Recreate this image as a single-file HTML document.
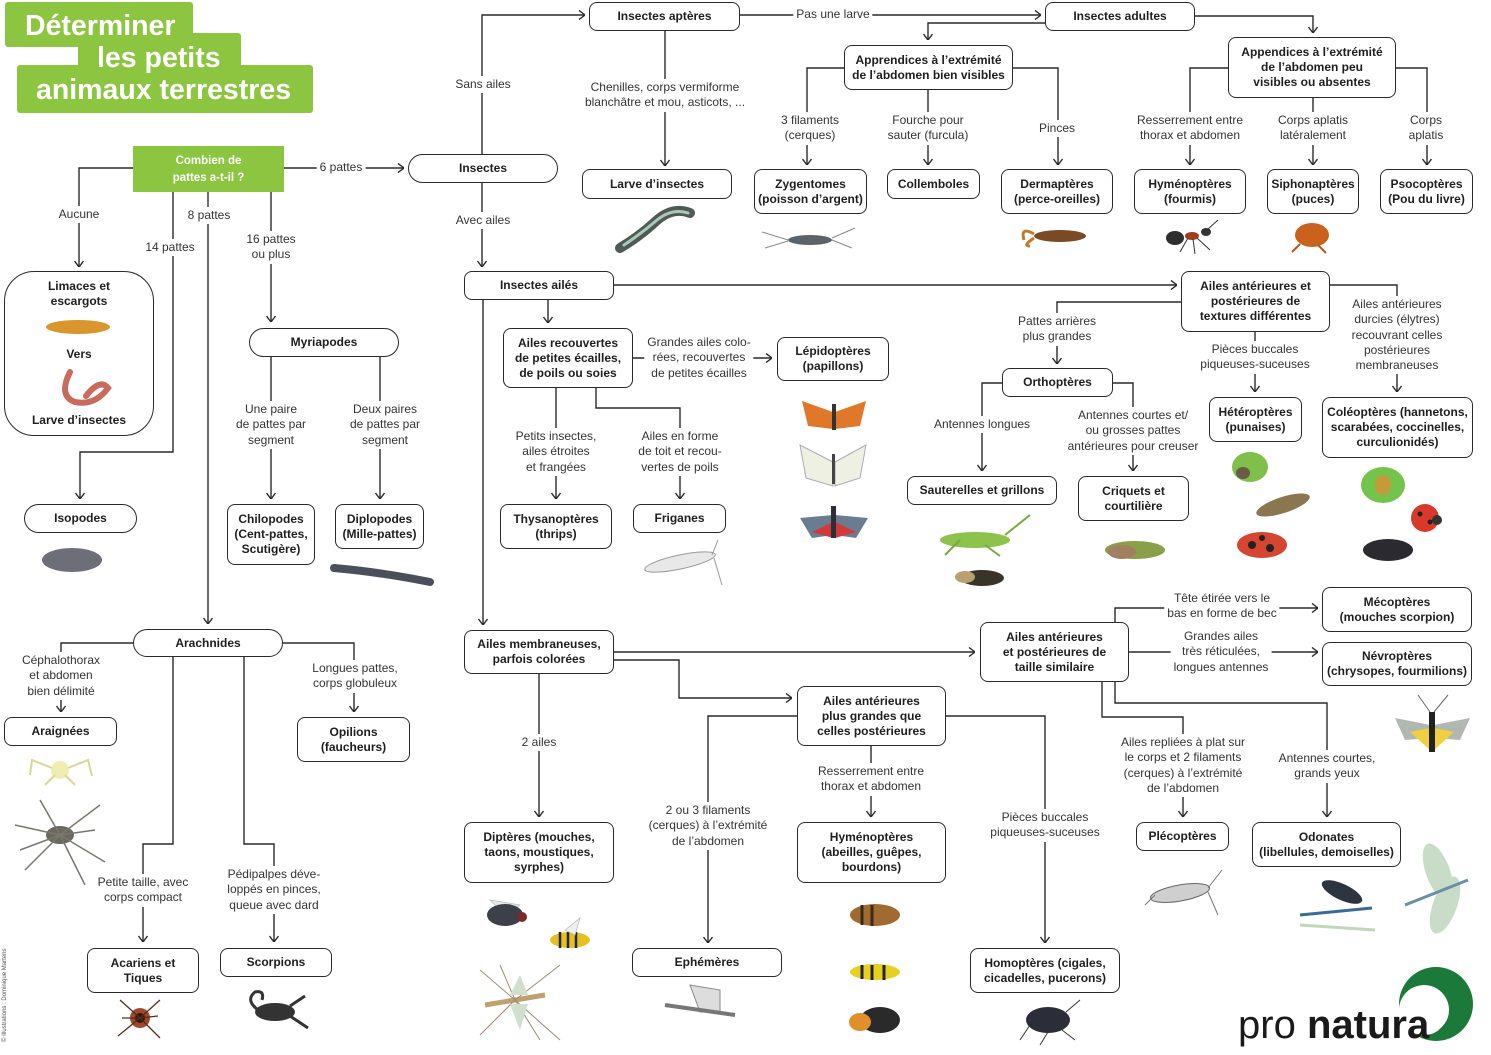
<!DOCTYPE html>
<html lang="fr"><head><meta charset="utf-8"><title>Déterminer les petits animaux terrestres</title>
<style>
body{margin:0;background:#fff}
#c{position:relative;width:1491px;height:1055px;overflow:hidden;font-family:"Liberation Sans",sans-serif;color:#222;background:#fff}
svg{position:absolute;left:0;top:0}
.b{position:absolute;box-sizing:border-box;border:1.6px solid #2a2a2a;border-radius:8px;background:#fff;display:flex;align-items:center;justify-content:center;text-align:center;font-weight:bold;font-size:12px;line-height:15px;white-space:nowrap;color:#1e1e1e}
.p{border-radius:15px}
.l{position:absolute;transform:translateX(-50%);background:#fff;text-align:center;white-space:nowrap;font-size:12px;line-height:15.3px;padding:1px 3px;color:#333}
.t{position:absolute;transform:translateX(-50%);text-align:center;white-space:nowrap;font-weight:bold;font-size:12px;line-height:15px;color:#1e1e1e}
</style></head><body><div id="c">
<svg width="1491" height="1055" viewBox="0 0 1491 1055">
<defs>
<marker id="ar" viewBox="0 0 10 10" refX="10" refY="5" markerWidth="10" markerHeight="10" markerUnits="userSpaceOnUse" orient="auto"><path d="M4,0.5 L10,5 L4,9.5" fill="none" stroke="#2a2a2a" stroke-width="1.4"/></marker>
</defs>
<!-- title -->
<rect x="5" y="2" width="188" height="45" rx="3" fill="#8cc540"/>
<rect x="78" y="33" width="163" height="37" rx="3" fill="#8cc540"/>
<rect x="17" y="65" width="296" height="48" rx="3" fill="#8cc540"/>
<g fill="#fff" font-family="Liberation Sans, sans-serif" font-weight="bold" font-size="28.5">
<text x="25" y="35">Déterminer</text>
<text x="97" y="67">les petits</text>
<text x="36" y="99">animaux terrestres</text>
</g>
<rect x="133" y="146" width="151" height="46" fill="#8cc540"/>
<g fill="#fff" font-family="Liberation Sans, sans-serif" font-weight="bold" font-size="11.5" text-anchor="middle">
<text x="208.5" y="164">Combien de</text>
<text x="208.5" y="181">pattes a-t-il ?</text>
</g>

<!-- illustrations -->
<g>
<path d="M620,248 Q640,236 655,222 Q672,206 690,213" fill="none" stroke="#4f5a56" stroke-width="10" stroke-linecap="round"/>
<path d="M624,245 Q642,233 657,220 Q672,208 688,213" fill="none" stroke="#a9c9b9" stroke-width="3" stroke-linecap="round"/>
<ellipse cx="810" cy="240" rx="22" ry="5" fill="#5a636b"/>
<path d="M788,240 L762,232 M788,241 L765,248 M832,238 L855,228 M832,240 L852,248" stroke="#888" stroke-width="1"/>
<ellipse cx="1060" cy="236" rx="26" ry="6" fill="#7a4a25"/>
<path d="M1034,234 Q1020,226 1024,240 M1034,238 Q1022,246 1030,246" stroke="#c07a2a" stroke-width="3" fill="none"/>
<ellipse cx="1175" cy="238" rx="9" ry="7" fill="#2e2e2e"/><ellipse cx="1192" cy="236" rx="7" ry="4" fill="#a03c1a"/><ellipse cx="1206" cy="232" rx="5" ry="4" fill="#333"/>
<path d="M1188,238 L1180,252 M1193,239 L1195,254 M1197,238 L1210,250 M1208,229 L1218,220" stroke="#333" stroke-width="1"/>
<ellipse cx="1312" cy="235" rx="17" ry="12" fill="#c8621d"/>
<path d="M1300,244 L1292,252 M1318,245 L1326,253" stroke="#b5581a" stroke-width="2"/>
<ellipse cx="78" cy="327" rx="32" ry="7" fill="#d9962c"/>
<path d="M70,372 Q58,396 75,402 Q95,406 108,388 Q100,378 86,396" fill="none" stroke="#c86a5c" stroke-width="6" stroke-linecap="round"/>
<ellipse cx="72" cy="560" rx="30" ry="12" fill="#6e6e78"/>
<path d="M334,568 Q380,572 430,582" fill="none" stroke="#4a4f5a" stroke-width="8" stroke-linecap="round"/>
<!-- butterflies -->
<path d="M833,412 L802,401 L808,426 L833,429 Z M835,412 L866,401 L860,426 L835,429 Z" fill="#e0782a"/>
<rect x="832" y="404" width="4" height="26" fill="#333"/>
<path d="M833,462 L800,445 L806,478 L833,486 Z M835,462 L866,445 L860,478 L835,486 Z" fill="#eef0e2" stroke="#aab" stroke-width="1"/>
<rect x="832" y="454" width="3" height="30" fill="#444"/>
<path d="M833,515 L800,518 L812,538 L833,535 Z M835,515 L868,518 L856,538 L835,535 Z" fill="#6a7c90"/>
<path d="M833,522 L812,532 L833,538 Z M835,522 L856,532 L835,538 Z" fill="#d23a3a"/>
<rect x="831" y="506" width="5" height="32" fill="#2b3038"/>
<ellipse cx="680" cy="562" rx="36" ry="7" transform="rotate(-12 680 562)" fill="#e8e8e8" stroke="#999" stroke-width="1"/>
<path d="M712,555 L718,540 M714,558 L722,585" stroke="#999" stroke-width="1"/>
<!-- orthoptera -->
<ellipse cx="975" cy="540" rx="35" ry="8" fill="#8cc34a"/>
<path d="M960,540 L945,555 M985,545 L1000,556 M1005,535 L1030,515" stroke="#7aa840" stroke-width="2" fill="none"/>
<ellipse cx="982" cy="578" rx="22" ry="8" fill="#3a3328"/><ellipse cx="965" cy="577" rx="10" ry="6" fill="#b8a070"/>
<ellipse cx="1135" cy="550" rx="30" ry="9" fill="#8aa048"/><ellipse cx="1122" cy="552" rx="14" ry="7" fill="#a08060"/>
<!-- heteroptera -->
<ellipse cx="1250" cy="467" rx="18" ry="15" fill="#7fbf4a"/><ellipse cx="1243" cy="473" rx="7" ry="6" fill="#6a5a48"/>
<ellipse cx="1283" cy="505" rx="28" ry="8" transform="rotate(-18 1283 505)" fill="#8a7650"/>
<ellipse cx="1262" cy="545" rx="25" ry="13" fill="#d64530"/>
<circle cx="1252" cy="545" r="4" fill="#222"/><circle cx="1270" cy="548" r="4" fill="#222"/><circle cx="1262" cy="538" r="3" fill="#222"/>
<!-- coleoptera -->
<ellipse cx="1383" cy="485" rx="22" ry="18" fill="#74c44c"/><ellipse cx="1383" cy="485" rx="8" ry="10" fill="#c49a3a"/>
<circle cx="1425" cy="518" r="14" fill="#d8392b"/><circle cx="1420" cy="514" r="2.5" fill="#222"/><circle cx="1430" cy="522" r="2.5" fill="#222"/><circle cx="1437" cy="520" r="5" fill="#333"/>
<ellipse cx="1388" cy="550" rx="25" ry="11" fill="#2a2a30"/>
<!-- spiders -->
<circle cx="60" cy="770" r="9" fill="#efeeb0"/><path d="M52,768 L32,760 L30,775 M68,768 L88,760 L92,776 M55,775 L45,785 M65,775 L75,785" stroke="#d8d890" stroke-width="2" fill="none"/>
<ellipse cx="60" cy="835" rx="14" ry="9" fill="#6b6860"/>
<path d="M60,835 L15,825 M60,835 L25,870 M60,835 L100,805 M60,835 L105,862 M60,835 L40,800 M60,835 L85,885 M60,835 L20,850 M60,835 L95,830" stroke="#7a776e" stroke-width="1.5"/>
<!-- mite, scorpion -->
<circle cx="140" cy="1018" r="10" fill="#a0482a"/><circle cx="140" cy="1018" r="5" fill="#2a1a12"/>
<path d="M140,1018 L120,1000 M140,1018 L160,1000 M140,1018 L118,1036 M140,1018 L160,1038 M140,1018 L122,1018 M140,1018 L158,1016" stroke="#5a2a1a" stroke-width="1.3"/>
<ellipse cx="275" cy="1012" rx="20" ry="9" fill="#333"/>
<path d="M258,1010 Q245,1000 255,992 Q265,990 262,1000 M290,1006 L305,996 M290,1016 L308,1028" stroke="#333" stroke-width="3" fill="none"/>
<!-- diptera -->
<path d="M490,900 L520,905 L505,915 Z" fill="#e8eae8" stroke="#bbb" stroke-width="0.8"/>
<ellipse cx="505" cy="915" rx="18" ry="11" fill="#3c4048"/><circle cx="522" cy="917" r="5" fill="#7a2a2a"/>
<ellipse cx="570" cy="940" rx="20" ry="8" fill="#e5c020"/>
<path d="M560,932 L560,948 M568,932 L568,948 M576,932 L576,948" stroke="#222" stroke-width="2.5"/>
<path d="M565,930 L580,918 L575,935 Z" fill="#eee" stroke="#bbb" stroke-width="0.8"/>
<path d="M485,1005 L545,995" stroke="#c0a070" stroke-width="5"/>
<path d="M515,1000 L480,970 M515,1000 L560,965 M515,1000 L480,1035 M515,1000 L560,1040 M515,1000 L540,1040 M515,1000 L500,965" stroke="#a08a70" stroke-width="1"/>
<path d="M510,995 L520,975 L528,995 Z M510,1004 L520,1030 L528,1004 Z" fill="#cfe0cc"/>
<!-- mayfly -->
<path d="M700,1012 L690,985 L720,990 L720,1012 Z" fill="#ddd" stroke="#888" stroke-width="1"/>
<path d="M665,1005 L735,1015" stroke="#777" stroke-width="4"/>
<!-- hymenoptera -->
<ellipse cx="875" cy="915" rx="25" ry="11" fill="#a06a30"/><path d="M862,905 L862,925 M872,905 L872,926" stroke="#3a2a1a" stroke-width="3"/>
<ellipse cx="875" cy="972" rx="25" ry="8" fill="#e8d020"/><path d="M862,965 L862,979 M872,965 L872,980 M884,965 L884,980" stroke="#222" stroke-width="3"/>
<ellipse cx="880" cy="1020" rx="20" ry="13" fill="#2a2a2a"/><ellipse cx="860" cy="1022" rx="11" ry="9" fill="#e0902a"/>
<!-- aphid -->
<ellipse cx="1048" cy="1020" rx="22" ry="13" fill="#2b2e38"/>
<path d="M1030,1025 L1020,1040 M1048,1032 L1040,1045 M1062,1030 L1075,1040 M1066,1012 L1080,1000" stroke="#333" stroke-width="1"/>
<!-- neuroptera -->
<path d="M1430,725 L1395,718 L1405,740 L1430,738 Z M1434,725 L1470,718 L1460,740 L1434,738 Z" fill="#b0b8b0"/>
<path d="M1430,728 L1410,732 L1430,750 Z M1434,728 L1454,732 L1434,750 Z" fill="#f0d040"/>
<rect x="1429" y="712" width="6" height="40" fill="#222"/>
<path d="M1430,712 L1418,695 M1434,712 L1448,695" stroke="#666" stroke-width="1"/>
<!-- plecoptera -->
<ellipse cx="1180" cy="893" rx="30" ry="8" transform="rotate(-10 1180 893)" fill="#cfcfcf" stroke="#666" stroke-width="1"/>
<path d="M1208,888 L1222,870 M1208,892 L1218,915 M1155,895 L1145,905" stroke="#777" stroke-width="1"/>
<!-- odonata -->
<path d="M1300,915 L1372,908" stroke="#3a6a9a" stroke-width="3"/>
<ellipse cx="1342" cy="892" rx="22" ry="8" transform="rotate(25 1342 892)" fill="#2e3440"/>
<path d="M1300,925 L1375,930" stroke="#c0d8b8" stroke-width="3"/>
<ellipse cx="1438" cy="872" rx="12" ry="30" transform="rotate(-20 1438 872)" fill="#c8dcc8"/>
<ellipse cx="1445" cy="905" rx="12" ry="30" transform="rotate(20 1445 905)" fill="#c8dcc8"/>
<path d="M1405,905 L1468,880" stroke="#6a90a8" stroke-width="3"/>
</g>

<!-- connectors -->
<g fill="none" stroke="#2a2a2a" stroke-width="1.4" marker-end="url(#ar)">
<path d="M284,168 H404"/>
<path d="M133,168 H79 V267"/>
<path d="M173,192 V452 H80 V499"/>
<path d="M208,192 V624"/>
<path d="M271,192 V322"/>
<path d="M482,154 V15 H585"/>
<path d="M482,183 V267"/>
<path d="M665,31 V166"/>
<path d="M740,15 H1041"/>
<path d="M1045,23 H928 V40"/>
<path d="M1195,16 H1313 V33"/>
<path d="M844,68 H807 V165"/>
<path d="M928,90 V165"/>
<path d="M1013,68 H1058 V165"/>
<path d="M1228,68 H1190 V165"/>
<path d="M1313,98 V165"/>
<path d="M1396,68 H1427 V165"/>
<path d="M483,300 V625"/>
<path d="M614,285 H1177"/>
<path d="M548,300 V323"/>
<path d="M633,358 H772"/>
<path d="M556,388 V499"/>
<path d="M596,388 V408 H680 V499"/>
<path d="M1181,302 H1057 V364"/>
<path d="M1255,332 V392"/>
<path d="M1330,285 H1397 V392"/>
<path d="M1002,383 H982 V471"/>
<path d="M1113,383 H1133 V471"/>
<path d="M614,652 H975"/>
<path d="M614,660 H679 V698 H792"/>
<path d="M539,674 V817"/>
<path d="M797,716 H708 V943"/>
<path d="M871,746 V817"/>
<path d="M946,716 H1045 V943"/>
<path d="M1115,622 V608 H1318"/>
<path d="M1129,652 H1318"/>
<path d="M1102,682 V717 H1183 V817"/>
<path d="M1115,682 V703 H1327 V817"/>
<path d="M133,643 H61 V712"/>
<path d="M283,643 H354 V712"/>
<path d="M173,657 V844 H143 V942"/>
<path d="M244,657 V844 H274 V942"/>
<path d="M271,357 V499"/>
<path d="M380,357 V499"/>
</g>

<!-- logo -->
<circle cx="1436" cy="1004" r="37" fill="#1b7a3a"/>
<circle cx="1424" cy="1010" r="25" fill="#fff"/>
<path d="M1412,985 Q1440,975 1452,1000 Q1455,1020 1440,1032" fill="none" stroke="#1b7a3a" stroke-width="5"/>
<text x="1238" y="1038" font-family="Liberation Sans, sans-serif" font-size="40" fill="#1a1a1a"><tspan>pro </tspan><tspan font-weight="bold">natura</tspan></text>
<text transform="translate(6,1042) rotate(-90)" font-family="Liberation Sans, sans-serif" font-size="6" fill="#555">© Illustrations : Dominique Martens</text>
</svg>

<!-- boxes -->
<div class="b" style="left:589px;top:2px;width:151px;height:29px">Insectes aptères</div>
<div class="b" style="left:1045px;top:2px;width:150px;height:29px">Insectes adultes</div>
<div class="b" style="left:844px;top:45px;width:169px;height:45px">Apprendices à l’extrémité<br>de l’abdomen bien visibles</div>
<div class="b" style="left:1228px;top:37px;width:168px;height:61px">Appendices à l’extrémité<br>de l’abdomen peu<br>visibles ou absentes</div>
<div class="b" style="left:582px;top:169px;width:150px;height:30px">Larve d’insectes</div>
<div class="b" style="left:754px;top:169px;width:113px;height:45px">Zygentomes<br>(poisson d’argent)</div>
<div class="b" style="left:887px;top:169px;width:93px;height:30px">Collemboles</div>
<div class="b" style="left:1001px;top:169px;width:112px;height:45px">Dermaptères<br>(perce-oreilles)</div>
<div class="b" style="left:1134px;top:169px;width:112px;height:45px">Hyménoptères<br>(fourmis)</div>
<div class="b" style="left:1267px;top:169px;width:92px;height:45px">Siphonaptères<br>(puces)</div>
<div class="b" style="left:1380px;top:169px;width:93px;height:45px">Psocoptères<br>(Pou du livre)</div>
<div class="b p" style="left:408px;top:154px;width:150px;height:29px">Insectes</div>
<div class="b" style="left:464px;top:271px;width:150px;height:29px">Insectes ailés</div>
<div class="b" style="left:503px;top:328px;width:130px;height:60px">Ailes recouvertes<br>de petites écailles,<br>de poils ou soies</div>
<div class="b" style="left:777px;top:337px;width:112px;height:44px">Lépidoptères<br>(papillons)</div>
<div class="b" style="left:500px;top:504px;width:112px;height:45px">Thysanoptères<br>(thrips)</div>
<div class="b" style="left:633px;top:504px;width:93px;height:29px">Friganes</div>
<div class="b" style="left:1181px;top:271px;width:149px;height:61px">Ailes antérieures et<br>postérieures de<br>textures différentes</div>
<div class="b" style="left:1002px;top:368px;width:111px;height:29px">Orthoptères</div>
<div class="b" style="left:907px;top:476px;width:150px;height:29px">Sauterelles et grillons</div>
<div class="b" style="left:1078px;top:476px;width:111px;height:45px">Criquets et<br>courtilière</div>
<div class="b" style="left:1209px;top:397px;width:93px;height:45px">Hétéroptères<br>(punaises)</div>
<div class="b" style="left:1322px;top:397px;width:151px;height:61px">Coléoptères (hannetons,<br>scarabées, coccinelles,<br>curculionidés)</div>
<div class="b" style="left:4px;top:271px;width:150px;height:165px;border-radius:30px;background:transparent"></div>
<div class="t" style="left:79px;top:279px">Limaces et<br>escargots</div>
<div class="t" style="left:79px;top:347px">Vers</div>
<div class="t" style="left:79px;top:413px">Larve d’insectes</div>
<div class="b p" style="left:24px;top:504px;width:113px;height:29px">Isopodes</div>
<div class="b p" style="left:249px;top:328px;width:150px;height:29px">Myriapodes</div>
<div class="b" style="left:227px;top:504px;width:88px;height:61px">Chilopodes<br>(Cent-pattes,<br>Scutigère)</div>
<div class="b" style="left:335px;top:504px;width:89px;height:45px">Diplopodes<br>(Mille-pattes)</div>
<div class="b p" style="left:133px;top:629px;width:150px;height:28px">Arachnides</div>
<div class="b" style="left:4px;top:717px;width:113px;height:29px">Araignées</div>
<div class="b" style="left:297px;top:717px;width:113px;height:45px">Opilions<br>(faucheurs)</div>
<div class="b" style="left:87px;top:948px;width:112px;height:45px">Acariens et<br>Tiques</div>
<div class="b" style="left:220px;top:948px;width:112px;height:29px">Scorpions</div>
<div class="b" style="left:464px;top:630px;width:150px;height:44px">Ailes membraneuses,<br>parfois colorées</div>
<div class="b" style="left:797px;top:686px;width:149px;height:60px">Ailes antérieures<br>plus grandes que<br>celles postérieures</div>
<div class="b" style="left:464px;top:822px;width:150px;height:61px">Diptères (mouches,<br>taons, moustiques,<br>syrphes)</div>
<div class="b" style="left:797px;top:822px;width:149px;height:61px">Hyménoptères<br>(abeilles, guêpes,<br>bourdons)</div>
<div class="b" style="left:632px;top:948px;width:150px;height:29px">Ephémères</div>
<div class="b" style="left:970px;top:948px;width:150px;height:45px">Homoptères (cigales,<br>cicadelles, pucerons)</div>
<div class="b" style="left:980px;top:622px;width:149px;height:60px">Ailes antérieures<br>et postérieures de<br>taille similaire</div>
<div class="b" style="left:1322px;top:587px;width:150px;height:45px">Mécoptères<br>(mouches scorpion)</div>
<div class="b" style="left:1322px;top:642px;width:150px;height:44px">Névroptères<br>(chrysopes, fourmilions)</div>
<div class="b" style="left:1136px;top:822px;width:93px;height:29px">Plécoptères</div>
<div class="b" style="left:1252px;top:822px;width:149px;height:45px">Odonates<br>(libellules, demoiselles)</div>

<!-- labels -->
<div class="l" style="left:341px;top:159px">6 pattes</div>
<div class="l" style="left:79px;top:206px">Aucune</div>
<div class="l" style="left:209px;top:207px">8 pattes</div>
<div class="l" style="left:170px;top:239px">14 pattes</div>
<div class="l" style="left:271px;top:231px">16 pattes<br>ou plus</div>
<div class="l" style="left:483px;top:76px">Sans ailes</div>
<div class="l" style="left:483px;top:212px">Avec ailes</div>
<div class="l" style="left:665px;top:79px">Chenilles, corps vermiforme<br>blanchâtre et mou, asticots, ...</div>
<div class="l" style="left:833px;top:6px">Pas une larve</div>
<div class="l" style="left:810px;top:112px">3 filaments<br>(cerques)</div>
<div class="l" style="left:928px;top:112px">Fourche pour<br>sauter (furcula)</div>
<div class="l" style="left:1057px;top:120px">Pinces</div>
<div class="l" style="left:1190px;top:112px">Resserrement entre<br>thorax et abdomen</div>
<div class="l" style="left:1313px;top:112px">Corps aplatis<br>latéralement</div>
<div class="l" style="left:1426px;top:112px">Corps<br>aplatis</div>
<div class="l" style="left:699px;top:334px">Grandes ailes colo-<br>rées, recouvertes<br>de petites écailles</div>
<div class="l" style="left:556px;top:428px">Petits insectes,<br>ailes étroites<br>et frangées</div>
<div class="l" style="left:680px;top:428px">Ailes en forme<br>de toit et recou-<br>vertes de poils</div>
<div class="l" style="left:1057px;top:313px">Pattes arrières<br>plus grandes</div>
<div class="l" style="left:1255px;top:341px">Pièces buccales<br>piqueuses-suceuses</div>
<div class="l" style="left:1397px;top:296px">Ailes antérieures<br>durcies (élytres)<br>recouvrant celles<br>postérieures<br>membraneuses</div>
<div class="l" style="left:982px;top:416px">Antennes longues</div>
<div class="l" style="left:1133px;top:407px">Antennes courtes et/<br>ou grosses pattes<br>antérieures pour creuser</div>
<div class="l" style="left:539px;top:734px">2 ailes</div>
<div class="l" style="left:708px;top:802px">2 ou 3 filaments<br>(cerques) à l’extrémité<br>de l’abdomen</div>
<div class="l" style="left:871px;top:763px">Resserrement entre<br>thorax et abdomen</div>
<div class="l" style="left:1045px;top:809px">Pièces buccales<br>piqueuses-suceuses</div>
<div class="l" style="left:1222px;top:590px">Tête étirée vers le<br>bas en forme de bec</div>
<div class="l" style="left:1221px;top:628px">Grandes ailes<br>très réticulées,<br>longues antennes</div>
<div class="l" style="left:1183px;top:734px">Ailes repliées à plat sur<br>le corps et 2 filaments<br>(cerques) à l’extrémité<br>de l’abdomen</div>
<div class="l" style="left:1327px;top:750px">Antennes courtes,<br>grands yeux</div>
<div class="l" style="left:61px;top:652px">Céphalothorax<br>et abdomen<br>bien délimité</div>
<div class="l" style="left:355px;top:660px">Longues pattes,<br>corps globuleux</div>
<div class="l" style="left:143px;top:874px">Petite taille, avec<br>corps compact</div>
<div class="l" style="left:274px;top:866px">Pédipalpes déve-<br>loppés en pinces,<br>queue avec dard</div>
<div class="l" style="left:271px;top:401px">Une paire<br>de pattes par<br>segment</div>
<div class="l" style="left:385px;top:401px">Deux paires<br>de pattes par<br>segment</div>
</div></body></html>
